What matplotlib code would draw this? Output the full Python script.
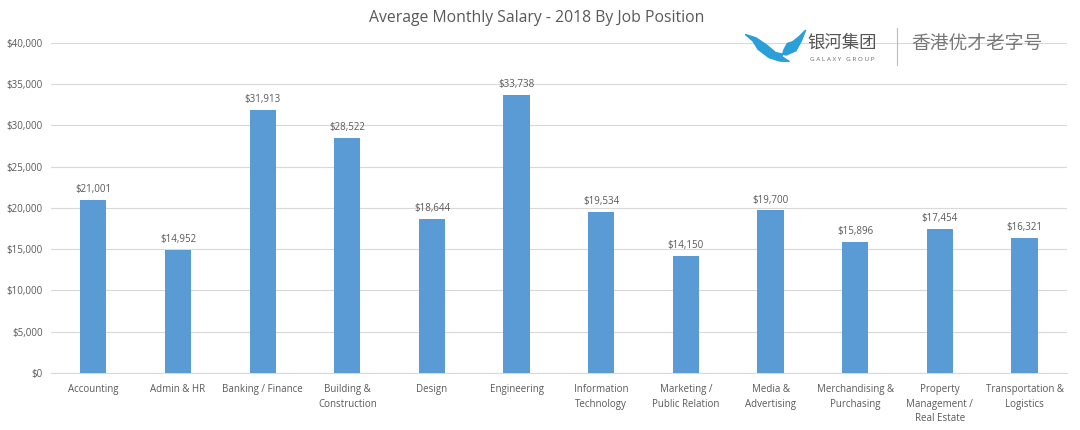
import matplotlib
matplotlib.use("Agg")
import matplotlib.pyplot as plt
from matplotlib.patches import Polygon
from matplotlib.ticker import FuncFormatter

categories = ["Accounting", "Admin & HR", "Banking / Finance", "Building &\nConstruction",
              "Design", "Engineering", "Information\nTechnology", "Marketing /\nPublic Relation",
              "Media &\nAdvertising", "Merchandising &\nPurchasing", "Property\nManagement /\nReal Estate",
              "Transportation &\nLogistics"]
salaries = [21001, 14952, 31913, 28522, 18644, 33738, 19534, 14150, 19700, 15896, 17454, 16321]
y_ticks = [0, 5000, 10000, 15000, 20000, 25000, 30000, 35000, 40000]

plt.rcParams['font.family'] = ['Open Sans', 'Noto Sans CJK SC', 'DejaVu Sans']
txt = "#595959"

fig = plt.figure(figsize=(10.8, 4.3), dpi=100)
fig.patch.set_facecolor("white")
ax = fig.add_axes([0.0472, 0.1326, 0.9407, 0.7674])
x = list(range(len(categories)))
ax.bar(x, salaries, width=0.31, color="#5B9BD5", zorder=3)
for xi, v in zip(x, salaries):
    ax.text(xi, v + 600, f"${v:,}", ha="center", va="bottom", fontsize=7, color=txt)

ax.set_xlim(-0.5, len(categories) - 0.5)
ax.set_ylim(0, 40000)
ax.set_yticks(y_ticks)
ax.yaxis.set_major_formatter(FuncFormatter(lambda v, p: f"${int(v):,}"))
ax.set_xticks(x)
ax.set_xticklabels(categories, fontsize=7, color=txt, linespacing=1.45)
ax.tick_params(axis="y", labelsize=7, colors=txt, length=0, pad=6)
ax.tick_params(axis="x", length=0, pad=8)
ax.grid(axis="y", color="#D9D9D9", linewidth=0.8, zorder=0)
for s in ["top", "right", "left"]:
    ax.spines[s].set_visible(False)
ax.spines["bottom"].set_color("#D9D9D9")

fig.text(0.497, 0.958, "Average Monthly Salary - 2018 By Job Position", ha="center", va="center",
         fontsize=11.3, color=txt)

# logo
whale = Polygon([(0.690, 0.920), (0.700, 0.912), (0.710, 0.895), (0.718, 0.878), (0.728, 0.872),
                 (0.737, 0.882), (0.742, 0.905), (0.746, 0.930), (0.740, 0.915), (0.734, 0.903),
                 (0.729, 0.899), (0.726, 0.885), (0.724, 0.868), (0.731, 0.857), (0.722, 0.858),
                 (0.712, 0.866), (0.702, 0.885), (0.697, 0.905)],
                closed=True, transform=fig.transFigure, color="#2A9FD8", zorder=5)
fig.add_artist(whale)
fig.text(0.748, 0.900, "银河集团", fontsize=12.5, color="#555555", va="center", ha="left")
fig.text(0.750, 0.862, "G A L A X Y   G R O U P", fontsize=4.6, color="#666666", va="center", ha="left")
fig.add_artist(plt.Line2D([0.831, 0.831], [0.85, 0.935], transform=fig.transFigure, color="#BBBBBB", lw=0.8))
fig.text(0.844, 0.897, "香港优才老字号", fontsize=13.5, color="#777777", va="center", ha="left")

fig.savefig("out.png", dpi=100)
